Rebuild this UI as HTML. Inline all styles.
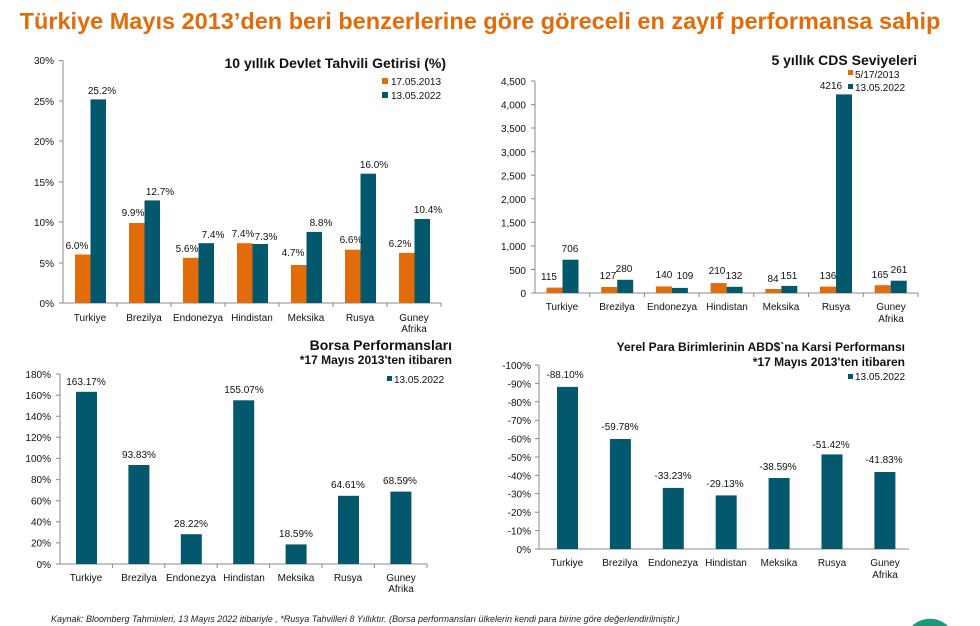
<!DOCTYPE html>
<html><head><meta charset="utf-8"><style>
html,body{margin:0;padding:0;background:#fff;width:980px;height:626px;overflow:hidden;}
svg{display:block;font-family:"Liberation Sans",sans-serif;}
.t{font-size:10px;fill:#111;}
.r{text-anchor:end}
.m{text-anchor:middle}
.h{font-weight:bold;font-size:13px;fill:#111;}
.ax{stroke:#888;stroke-width:1;fill:none}
</style></head><body>
<svg width="980" height="626" viewBox="0 0 980 626">
<text x="480" y="29" class="m" style="font-size:23.5px;font-weight:bold;fill:#E36C0A">Türkiye Mayıs 2013’den beri benzerlerine göre göreceli en zayıf performansa sahip</text>

<!-- Chart 1 -->
<text x="446" y="68" class="h r" style="font-size:14px">10 yıllık Devlet Tahvili Getirisi (%)</text>
<rect x="382" y="78" width="6" height="6" fill="#E36C0A"/><text x="391" y="85" class="t">17.05.2013</text>
<rect x="382" y="92" width="6" height="6" fill="#04586E"/><text x="391" y="99" class="t">13.05.2022</text>
<g class="t r">
<text x="54" y="64">30%</text><text x="54" y="105">25%</text><text x="54" y="145">20%</text><text x="54" y="186">15%</text><text x="54" y="226">10%</text><text x="54" y="267">5%</text><text x="54" y="307">0%</text>
</g>
<path class="ax" d="M63 60.5V303H441M59 60.5H63M59 101H63M59 141H63M59 182H63M59 222H63M59 263H63M59 303H63M117 303v4M171 303v4M225 303v4M279 303v4M333 303v4M387 303v4M441 303v4"/>
<g fill="#E36C0A">
<rect x="75" y="254.5" width="15.5" height="48.5"/><rect x="129" y="223" width="15.5" height="80"/><rect x="183" y="257.8" width="15.5" height="45.2"/><rect x="237" y="243.2" width="15.5" height="59.8"/><rect x="291" y="265" width="15.5" height="38"/><rect x="345" y="249.7" width="15.5" height="53.3"/><rect x="399" y="252.9" width="15.5" height="50.1"/>
</g>
<g fill="#04586E">
<rect x="90.5" y="99.4" width="15.5" height="203.6"/><rect x="144.5" y="200.4" width="15.5" height="102.6"/><rect x="198.5" y="243.2" width="15.5" height="59.8"/><rect x="252.5" y="244" width="15.5" height="59"/><rect x="306.5" y="231.9" width="15.5" height="71.1"/><rect x="360.5" y="173.7" width="15.5" height="129.3"/><rect x="414.5" y="219" width="15.5" height="84"/>
</g>
<g class="t m">
<text x="77" y="249">6.0%</text><text x="102" y="94">25.2%</text>
<text x="133" y="216">9.9%</text><text x="160" y="195">12.7%</text>
<text x="187" y="252">5.6%</text><text x="213" y="238">7.4%</text>
<text x="243" y="237">7.4%</text><text x="266" y="240">7.3%</text>
<text x="293" y="256">4.7%</text><text x="321" y="226">8.8%</text>
<text x="351" y="243">6.6%</text><text x="374" y="168">16.0%</text>
<text x="400" y="247">6.2%</text><text x="428" y="213">10.4%</text>
<text x="90" y="321">Turkiye</text><text x="144" y="321">Brezilya</text><text x="198" y="321">Endonezya</text><text x="252" y="321">Hindistan</text><text x="306" y="321">Meksika</text><text x="360" y="321">Rusya</text><text x="414" y="321">Guney</text><text x="414" y="332">Afrika</text>
</g>

<!-- Chart 2 -->
<text x="917" y="65" class="h r" style="font-size:14px">5 yıllık CDS Seviyeleri</text>
<rect x="848" y="70" width="5" height="5" fill="#E36C0A"/><text x="855" y="78" class="t">5/17/2013</text>
<rect x="848" y="84" width="5" height="5" fill="#04586E"/><text x="855" y="91" class="t">13.05.2022</text>
<g class="t r">
<text x="526" y="85">4,500</text><text x="526" y="108.5">4,000</text><text x="526" y="132">3,500</text><text x="526" y="156">3,000</text><text x="526" y="179.5">2,500</text><text x="526" y="203">2,000</text><text x="526" y="226.5">1,500</text><text x="526" y="250">1,000</text><text x="526" y="274">500</text><text x="526" y="297">0</text>
</g>
<path class="ax" d="M535 81V293H918M531 81H535M531 104.6H535M531 128H535M531 151.7H535M531 175.2H535M531 198.8H535M531 222.4H535M531 246H535M531 269.5H535M531 293H535M589.7 293v4M644.4 293v4M699.1 293v4M753.8 293v4M808.5 293v4M863.2 293v4M918 293v4"/>
<g fill="#E36C0A">
<rect x="546.5" y="287.6" width="16" height="5.4"/><rect x="601.2" y="287" width="16" height="6"/><rect x="655.9" y="286.4" width="16" height="6.6"/><rect x="710.6" y="283.1" width="16" height="9.9"/><rect x="765.3" y="289" width="16" height="4"/><rect x="820" y="286.6" width="16" height="6.4"/><rect x="874.7" y="285.2" width="16" height="7.8"/>
</g>
<g fill="#04586E">
<rect x="562.5" y="259.7" width="16" height="33.3"/><rect x="617.2" y="279.8" width="16" height="13.2"/><rect x="671.9" y="287.9" width="16" height="5.1"/><rect x="726.6" y="286.8" width="16" height="6.2"/><rect x="781.3" y="285.9" width="16" height="7.1"/><rect x="836" y="94.4" width="16" height="198.6"/><rect x="890.7" y="280.7" width="16" height="12.3"/>
</g>
<g class="t m">
<text x="549" y="280">115</text><text x="570" y="252">706</text>
<text x="608" y="279">127</text><text x="624" y="272">280</text>
<text x="664" y="278">140</text><text x="685" y="279">109</text>
<text x="717" y="274">210</text><text x="734" y="279">132</text>
<text x="773" y="282">84</text><text x="789" y="279">151</text>
<text x="828" y="279">136</text><text x="831" y="89">4216</text>
<text x="880" y="278">165</text><text x="899" y="273">261</text>
<text x="562" y="310">Turkiye</text><text x="617" y="310">Brezilya</text><text x="672" y="310">Endonezya</text><text x="727" y="310">Hindistan</text><text x="781" y="310">Meksika</text><text x="836" y="310">Rusya</text><text x="891" y="310">Guney</text><text x="891" y="322">Afrika</text>
</g>

<!-- Chart 3 -->
<text x="452" y="350" class="h r" style="font-size:14px">Borsa Performansları</text>
<text x="452" y="364" class="h r" style="font-size:12px">*17 Mayıs 2013'ten itibaren</text>
<rect x="387" y="376" width="5" height="5" fill="#04586E"/><text x="394" y="383" class="t">13.05.2022</text>
<g class="t r">
<text x="51" y="378">180%</text><text x="51" y="399">160%</text><text x="51" y="420">140%</text><text x="51" y="441">120%</text><text x="51" y="462">100%</text><text x="51" y="483">80%</text><text x="51" y="504.5">60%</text><text x="51" y="525.5">40%</text><text x="51" y="546.5">20%</text><text x="51" y="568">0%</text>
</g>
<path class="ax" d="M60 374V564H427M56 374H60M56 395.1H60M56 416.2H60M56 437.3H60M56 458.4H60M56 479.6H60M56 500.7H60M56 521.8H60M56 542.9H60M56 564H60M112.4 564v4M164.8 564v4M217.2 564v4M269.6 564v4M322 564v4M374.4 564v4M427 564v4"/>
<g fill="#04586E">
<rect x="76" y="391.8" width="21" height="172.2"/><rect x="128.4" y="465" width="21" height="99"/><rect x="180.8" y="534.2" width="21" height="29.8"/><rect x="233.2" y="400.3" width="21" height="163.7"/><rect x="285.6" y="544.4" width="21" height="19.6"/><rect x="338" y="495.8" width="21" height="68.2"/><rect x="390.4" y="491.6" width="21" height="72.4"/>
</g>
<g class="t m">
<text x="86" y="385">163.17%</text><text x="139" y="458">93.83%</text><text x="191" y="527">28.22%</text><text x="244" y="393">155.07%</text><text x="296" y="537">18.59%</text><text x="348" y="488">64.61%</text><text x="400" y="484">68.59%</text>
<text x="86" y="581">Turkiye</text><text x="139" y="581">Brezilya</text><text x="191" y="581">Endonezya</text><text x="244" y="581">Hindistan</text><text x="296" y="581">Meksika</text><text x="348" y="581">Rusya</text><text x="401" y="581">Guney</text><text x="401" y="592">Afrika</text>
</g>

<!-- Chart 4 -->
<text x="905" y="351" class="h r" style="font-size:12px">Yerel Para Birimlerinin ABD$`na  Karsi Performansı</text>
<text x="905" y="366" class="h r" style="font-size:12px">*17 Mayıs 2013'ten itibaren</text>
<rect x="848" y="374" width="5" height="5" fill="#04586E"/><text x="855" y="380" class="t">13.05.2022</text>
<g class="t r">
<text x="531" y="369">-100%</text><text x="531" y="387.5">-90%</text><text x="531" y="406">-80%</text><text x="531" y="424">-70%</text><text x="531" y="442.5">-60%</text><text x="531" y="461">-50%</text><text x="531" y="479.5">-40%</text><text x="531" y="497.5">-30%</text><text x="531" y="516">-20%</text><text x="531" y="534.5">-10%</text><text x="531" y="553">0%</text>
</g>
<path class="ax" d="M539 365V549H909M535 365H539M535 383.4H539M535 401.8H539M535 420.2H539M535 438.6H539M535 457H539M535 475.4H539M535 493.8H539M535 512.2H539M535 530.6H539M535 549H539"/>
<g fill="#04586E">
<rect x="557" y="386.9" width="21" height="162.1"/><rect x="609.9" y="439" width="21" height="110"/><rect x="662.8" y="487.9" width="21" height="61.1"/><rect x="715.7" y="495.4" width="21" height="53.6"/><rect x="768.6" y="478" width="21" height="71"/><rect x="821.5" y="454.4" width="21" height="94.6"/><rect x="874.4" y="472" width="21" height="77"/>
</g>
<g class="t m">
<text x="565" y="378">-88.10%</text><text x="620" y="430">-59.78%</text><text x="673" y="479">-33.23%</text><text x="725" y="487">-29.13%</text><text x="778" y="470">-38.59%</text><text x="831" y="448">-51.42%</text><text x="884" y="463">-41.83%</text>
<text x="567" y="566">Turkiye</text><text x="620" y="566">Brezilya</text><text x="673" y="566">Endonezya</text><text x="726" y="566">Hindistan</text><text x="779" y="566">Meksika</text><text x="832" y="566">Rusya</text><text x="885" y="566">Guney</text><text x="885" y="578">Afrika</text>
</g>

<text x="51" y="622" style="font-size:9px;font-style:italic;fill:#222">Kaynak: Bloomberg Tahminleri, 13 Mayıs 2022 itibariyle  , *Rusya  Tahvilleri 8 Yıllıktır. (Borsa performansları ülkelerin kendi para birine göre değerlendirilmiştir.)</text>
<path d="M912 626A26 26 0 0 1 948 626Z" fill="#1a9a78"/>
</svg>
</body></html>
